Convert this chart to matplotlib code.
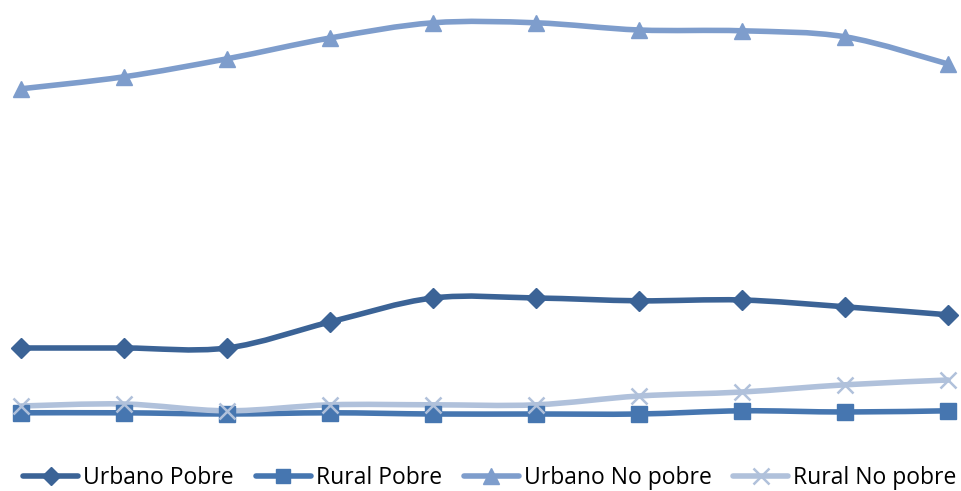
import matplotlib.pyplot as plt
from matplotlib.path import Path
from matplotlib.patches import PathPatch
import numpy as np

# ten periods, no labels shown in the original
periods = np.arange(10)

urbano_pobre = [23.0, 23.0, 23.0, 29.5, 35.5, 35.5, 34.8, 35.0, 33.3, 31.3]
rural_pobre = [6.8, 6.8, 6.5, 6.8, 6.5, 6.5, 6.5, 7.3, 7.0, 7.3]
urbano_no_pobre = [87.8, 90.8, 95.3, 100.5, 104.3, 104.3, 102.5, 102.3, 100.8, 94.0]
rural_no_pobre = [8.5, 9.0, 7.3, 8.8, 8.8, 8.8, 11.0, 12.0, 13.8, 15.0]

series_names = ['Urbano Pobre', 'Rural Pobre', 'Urbano No pobre', 'Rural No pobre']
colors = ['#3B6396', '#4676B0', '#7E9DCC', '#B0C1DB']
markers = ['D', 's', '^', 'x']
msizes = [10, 11, 12, 12]


def smooth_path(xs, ys):
    # excel-like smoothed line: cubic bezier segments (catmull-rom control points)
    pts = np.column_stack([xs, ys]).astype(float)
    n = len(pts)
    verts = [pts[0]]
    codes = [Path.MOVETO]
    for i in range(n - 1):
        p0 = pts[i - 1] if i > 0 else pts[i]
        p1 = pts[i]
        p2 = pts[i + 1]
        p3 = pts[i + 2] if i + 2 < n else pts[i + 1]
        c1 = p1 + (p2 - p0) / 6.0
        c2 = p2 - (p3 - p1) / 6.0
        verts += [c1, c2, p2]
        codes += [Path.CURVE4] * 3
    return Path(verts, codes)


plt.rcParams['font.family'] = ['Open Sans', 'DejaVu Sans']

fig = plt.figure(figsize=(9.61, 4.91), dpi=100)
ax = fig.add_axes([0, 0, 1, 1])

all_series = [urbano_pobre, rural_pobre, urbano_no_pobre, rural_no_pobre]
handles = []
for vals, name, c, m, ms in zip(all_series, series_names, colors, markers, msizes):
    ax.add_patch(PathPatch(smooth_path(periods, vals), facecolor='none',
                           edgecolor=c, lw=4, capstyle='round', joinstyle='round'))
    if m == 'x':
        ax.plot(periods, vals, ls='none', marker=m, ms=ms, mec=c, mew=1.8)
    else:
        ax.plot(periods, vals, ls='none', marker=m, ms=ms, mfc=c, mec=c)
    h, = ax.plot([], [], color=c, lw=4, marker=m, ms=ms - 1, mfc=c, mec=c,
                 mew=1.8 if m == 'x' else 1, label=name, solid_capstyle='round')
    handles.append(h)

ax.set_xlim(-0.204, 9.126)
ax.set_ylim(-12.75, 110)
ax.axis('off')

ax.legend(handles=handles, loc='center', bbox_to_anchor=(0.51, 0.026), ncol=4,
          frameon=False, fontsize=16.5, handlelength=2.4, handletextpad=0.22,
          columnspacing=0.95, borderaxespad=0, borderpad=0)

fig.savefig('out.png', dpi=100)
